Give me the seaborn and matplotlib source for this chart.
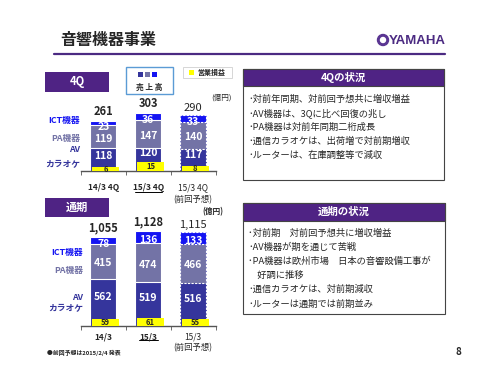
import matplotlib.pyplot as plt
import numpy as np
import seaborn as sns
from matplotlib.patches import Rectangle, Circle

W, H = 500, 375

# ---------------------------------------------------------------------------
#         Data (億円)
# ---------------------------------------------------------------------------
q_labels = ["14/3 4Q", "15/3 4Q", "15/3 4Q\n(前回予想)"]
q_av = [118, 120, 117]
q_pa = [119, 147, 140]
q_ict = [23, 36, 33]
q_total = [261, 303, 290]
q_op = [6, 15, 8]

y_labels = ["14/3", "15/3", "15/3\n(前回予想)"]
y_av = [562, 519, 516]
y_pa = [415, 474, 466]
y_ict = [78, 136, 133]
y_total = [1055, 1128, 1115]
y_op = [59, 61, 55]

q_notes = ["･対前年同期、対前回予想共に増収増益",
           "･AV機器は、3Qに比べ回復の兆し",
           "･PA機器は対前年同期二桁成長",
           "･通信カラオケは、出荷増で対前期増収",
           "･ルーターは、在庫調整等で減収"]
y_notes = ["･対前期　対前回予想共に増収増益",
           "･AV機器が期を通じて苦戦",
           "･PA機器は欧州市場　日本の音響設備工事が",
           "　好調に推移",
           "･通信カラオケは、対前期減収",
           "･ルーターは通期では前期並み"]

C_AV = "#35359c"
C_PA = "#7373a6"
C_ICT = "#1414f2"
PURPLE = "#4f2384"
YELLOW = "#ffff00"

sns.set_style("white")
plt.rcParams["font.family"] = ["Noto Sans CJK JP", "DejaVu Sans"]

fig = plt.figure(figsize=(5, 3.75), dpi=100)


def px_box(x0, y0, x1, y1):
    """Pixel box (top-left origin) -> figure fraction rect."""
    return [x0 / W, 1 - y1 / H, (x1 - x0) / W, (y1 - y0) / H]


bg = fig.add_axes([0, 0, 1, 1], zorder=0)
bg.set_xlim(0, W)
bg.set_ylim(H, 0)
bg.axis("off")

# Title + logo
bg.text(60, 40, "音響機器事業", fontsize=11.5, fontweight="bold", va="center")
bg.plot([54, 445], [54, 54], color="#4b2a82", lw=1.6)
bg.add_patch(Circle((383, 40), 5.5, color="#5a3592"))
bg.add_patch(Circle((383, 40), 2.5, color="white"))
bg.text(446, 40.5, "YAMAHA", fontsize=9.5, fontweight="bold", color="#4b2a82",
        ha="right", va="center", family=["Liberation Sans", "DejaVu Sans"])

# Section tags
for (x0, y0, x1, y1), txt in [((45, 72, 109, 92), "4Q"), ((45, 198, 109, 217), "通期")]:
    bg.add_patch(Rectangle((x0, y0), x1 - x0, y1 - y0, facecolor=PURPLE, edgecolor="none"))
    bg.text((x0 + x1) / 2, (y0 + y1) / 2, txt, color="white", fontsize=8,
            fontweight="bold", ha="center", va="center")

# Legends
bg.add_patch(Rectangle((126, 67), 47, 27, facecolor="white", edgecolor="#5b9bd5", lw=1))
for k, c in enumerate([C_AV, C_PA, C_ICT]):
    bg.add_patch(Rectangle((138 + k * 7, 72), 5, 5, facecolor=c, edgecolor="none"))
bg.text(149.5, 87, "売 上 高", fontsize=5.5, fontweight="bold", ha="center", va="center")
bg.add_patch(Rectangle((183, 67), 49, 11, facecolor="white", edgecolor="#d0d0d0", lw=0.6))
bg.add_patch(Rectangle((189, 70), 5, 5, facecolor=YELLOW, edgecolor="none"))
bg.text(197, 72.5, "営業損益", fontsize=5, fontweight="bold", va="center")

bg.text(221, 98, "(億円)", fontsize=5.5, ha="center", va="center")
bg.text(213, 212, "(億円)", fontsize=5.5, fontweight="bold", ha="center", va="center")


def draw_chart(box, ymax, opmax, av, pa, ict, total, op, labels, pad):
    ax = fig.add_axes(px_box(*box), zorder=1)
    ax.patch.set_alpha(0)
    pos = np.arange(len(av))
    av, pa, ict = np.array(av), np.array(pa), np.array(ict)
    # stacked bars: draw cumulative heights from top layer down
    for cum, col in [(av + pa + ict, C_ICT), (av + pa, C_PA), (av, C_AV)]:
        sns.barplot(x=pos, y=cum, native_scale=True, color=col, saturation=1,
                    width=0.58, edgecolor="white", linewidth=0.8, ax=ax)
    for p in ax.patches[2::3]:
        p.set_linestyle((0, (2, 1.2)))

    # height of the yellow bars expressed in sales units
    op_top = np.array(op) * ymax / opmax
    lab_kw = dict(color="white", fontsize=7.5, fontweight="bold", ha="center", va="center")
    for i in pos:
        ax.annotate(f"{av[i]}", (i, (op_top[i] + av[i]) / 2), xytext=(0, 1.5),
                    textcoords="offset points", **lab_kw)
        ax.annotate(f"{pa[i]}", (i, av[i] + pa[i] / 2), xytext=(0, -1.5),
                    textcoords="offset points", **lab_kw)
        ax.annotate(f"{ict[i]}", (i, av[i] + pa[i] + ict[i] / 2), xytext=(0, -2.5),
                    textcoords="offset points", **lab_kw)
    tops = av + pa + ict
    for i in pos:
        ax.annotate(f"{total[i]:,}", (i, tops[i]), xytext=(0, 2),
                    textcoords="offset points", ha="center", va="bottom",
                    fontsize=8, fontweight="bold" if i < 2 else "normal")

    # operating income on its own scale
    ax2 = ax.twinx()
    sns.barplot(x=pos + 0.05, y=op, native_scale=True, color=YELLOW,
                saturation=1, width=0.6, linewidth=0, ax=ax2)
    for i in pos:
        ax2.text(i + 0.05, op[i] / 2, f"{op[i]}", fontsize=5.5,
                 fontweight="bold", ha="center", va="center")
    ax2.set_ylim(0, opmax)
    ax2.set_yticks([])
    for s in ax2.spines.values():
        s.set_visible(False)

    ax.set_ylim(0, ymax)
    ax.set_xlim(-0.5, 2.5)
    ax.set_yticks([])
    for s in ["left", "top", "right"]:
        ax.spines[s].set_visible(False)
    ax.spines["bottom"].set(color="#555555", lw=1)
    ax.set_xticks(pos)
    ax.set_xticklabels(labels, fontsize=6, linespacing=1.3)
    for lab, w in zip(ax.get_xticklabels(), ["bold", "bold", "normal"]):
        lab.set_fontweight(w)
    ax.set_xticks([-0.5, 0.5, 1.5, 2.5], minor=True)
    ax.tick_params(axis="x", which="major", length=0, pad=pad)
    ax.tick_params(axis="x", which="minor", bottom=True, length=3,
                   direction="out", color="#555555")
    ax.set_xlabel("")
    ax.set_ylabel("")
    return ax


draw_chart((81, 96, 215.5, 171), 75 / 0.192, 75 / 0.6,
           q_av, q_pa, q_ict, q_total, q_op, q_labels, 9)
draw_chart((81, 200, 215.5, 326), 126 / 0.084, 126 / 0.127,
           y_av, y_pa, y_ict, y_total, y_op, y_labels, 4.5)

# underline on actual-year labels
bg.plot([135, 162], [192, 192], color="black", lw=0.7)
bg.plot([139, 158], [340, 340], color="black", lw=0.7)

# Segment names left of the bars
for yy, txt, col in [(120, "ICT機器", C_ICT), (138, "PA機器", C_PA),
                     (150, "AV", C_AV), (165, "カラオケ", C_AV)]:
    bg.text(80, yy, txt, color=col, fontsize=6.3, fontweight="bold",
            ha="right", va="center")
for yy, txt, col in [(253, "ICT機器", C_ICT), (271, "PA機器", C_PA),
                     (297, "AV", C_AV), (309, "カラオケ", C_AV)]:
    bg.text(83, yy, txt, color=col, fontsize=6.3, fontweight="bold",
            ha="right", va="center")


def draw_panel(x0, y0, x1, y1, hdr, title, lines, first, step):
    bg.add_patch(Rectangle((x0, y0), x1 - x0, y1 - y0, facecolor="white",
                           edgecolor="#444444", lw=0.8))
    bg.add_patch(Rectangle((x0, y0), x1 - x0, hdr - y0, facecolor=PURPLE,
                           edgecolor="#444444", lw=0.8))
    bg.text((x0 + x1) / 2, (y0 + hdr) / 2, title, color="white", fontsize=7.5,
            fontweight="bold", ha="center", va="center")
    for k, line in enumerate(lines):
        bg.text(x0 + 5, first + k * step, line, fontsize=6.7, va="center")


draw_panel(243, 69, 444, 180, 86, "4Qの状況", q_notes, 99, 14)
draw_panel(243, 203, 445, 314, 221, "通期の状況", y_notes, 233, 14.2)

bg.text(47, 352.5, "●前回予想は2015/2/4 発表", fontsize=4.2, fontweight="bold", va="center")
bg.text(458, 352, "8", fontsize=7, fontweight="bold", ha="center", va="center")

fig.savefig("out.png", dpi=100)
